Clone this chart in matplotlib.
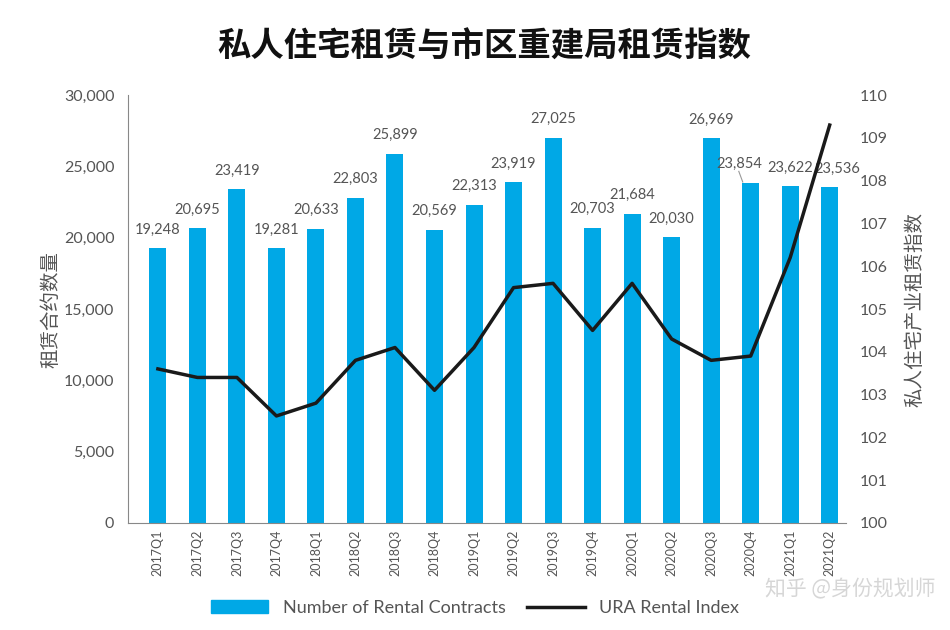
import matplotlib
matplotlib.use('Agg')
import matplotlib.pyplot as plt
from matplotlib.patches import Patch
from matplotlib.lines import Line2D

plt.rcParams['font.family'] = ['Lato', 'Noto Sans CJK SC', 'DejaVu Sans']

quarters = ['2017Q1', '2017Q2', '2017Q3', '2017Q4', '2018Q1', '2018Q2', '2018Q3', '2018Q4',
            '2019Q1', '2019Q2', '2019Q3', '2019Q4', '2020Q1', '2020Q2', '2020Q3', '2020Q4',
            '2021Q1', '2021Q2']
contracts = [19248, 20695, 23419, 19281, 20633, 22803, 25899, 20569,
             22313, 23919, 27025, 20703, 21684, 20030, 26969, 23854,
             23622, 23536]
rental_index = [103.6, 103.4, 103.4, 102.5, 102.8, 103.8, 104.1, 103.1,
                104.1, 105.5, 105.6, 104.5, 105.6, 104.3, 103.8, 103.9,
                106.2, 109.3]

grey = '#555555'
bar_color = '#00A8E6'

fig = plt.figure(figsize=(9.5, 6.3), dpi=100)
ax = fig.add_axes([0.135, 0.170, 0.755, 0.679])
x = list(range(len(quarters)))
ax.bar(x, contracts, width=0.43, color=bar_color, zorder=2)
ax.set_ylim(0, 30000)
ax.set_xlim(-0.75, 17.4)
ax.set_yticks(range(0, 30001, 5000))
ax.set_yticklabels([f'{v:,}' for v in range(0, 30001, 5000)], color=grey, fontsize=11.5)
ax.set_xticks(x)
ax.set_xticklabels(quarters, rotation=90, color=grey, fontsize=9)
ax.tick_params(axis='y', length=0, pad=10)
ax.tick_params(axis='x', length=0, pad=5)
for s in ['top', 'right']:
    ax.spines[s].set_visible(False)
ax.spines['left'].set_color('#888888')
ax.spines['bottom'].set_color('#888888')
ax.set_ylabel('租赁合约数量', color=grey, fontsize=14, family=['Noto Sans CJK SC'], labelpad=2)

# value labels
for i, v in enumerate(contracts):
    dx = 0
    if i == 15:
        dx = -0.3
        ax.plot([i - 0.3, i - 0.2], [v + 800, v + 50], color='#999999', lw=0.8, zorder=3)
    elif i == 17:
        dx = 0.2
    ax.text(i + dx, v + 800, f'{v:,}', ha='center', va='bottom', color=grey, fontsize=10.5)

ax2 = ax.twinx()
ax2.plot(x, rental_index, color='#1a1a1a', lw=2.5, zorder=4)
ax2.set_ylim(100, 110)
ax2.set_yticks(range(100, 111))
ax2.tick_params(axis='y', length=0, pad=10, labelcolor=grey, labelsize=11.5)
for s in ['top', 'right', 'left', 'bottom']:
    ax2.spines[s].set_visible(False)
ax2.set_ylabel('私人住宅产业租赁指数', color=grey, fontsize=14, family=['Noto Sans CJK SC'], labelpad=12)

fig.text(0.51, 0.925, '私人住宅租赁与市区重建局租赁指数', ha='center', va='center',
         fontsize=24, fontweight='bold', color='#111111', family=['Noto Sans CJK SC'])

handles = [Patch(color=bar_color), Line2D([0], [0], color='#1a1a1a', lw=2.5)]
fig.legend(handles, ['Number of Rental Contracts', 'URA Rental Index'], loc='center',
           bbox_to_anchor=(0.5, 0.035), ncol=2, frameon=False, fontsize=13,
           labelcolor=grey, handlelength=3.2, columnspacing=1.2)

fig.text(0.895, 0.065, '知乎 @身份规划师', ha='center', va='center', fontsize=15,
         color='#cccccc', alpha=0.8, family=['Noto Sans CJK SC'])

fig.savefig('out.png', dpi=100)
